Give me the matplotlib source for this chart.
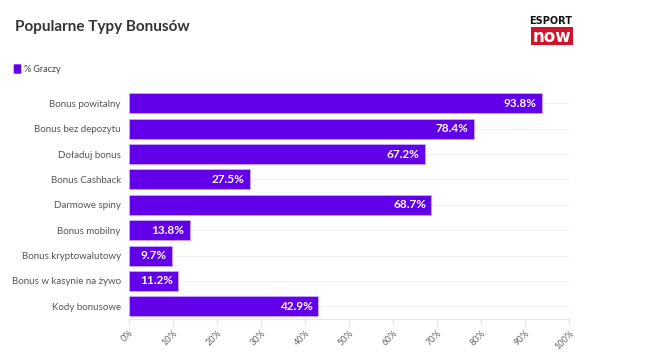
import matplotlib
matplotlib.use("Agg")
import matplotlib.pyplot as plt
from matplotlib.patches import FancyBboxPatch, Rectangle

plt.rcParams['font.family'] = ['Lato', 'DejaVu Sans']

categories = ["Bonus powitalny", "Bonus bez depozytu", "Doładuj bonus", "Bonus Cashback",
              "Darmowe spiny", "Bonus mobilny", "Bonus kryptowalutowy",
              "Bonus w kasynie na żywo", "Kody bonusowe"]
values = [93.8, 78.4, 67.2, 27.5, 68.7, 13.8, 9.7, 11.2, 42.9]
xticks = [0, 10, 20, 30, 40, 50, 60, 70, 80, 90, 100]
xtick_labels = [f"{t}%" for t in xticks]
title = "Popularne Typy Bonusów"
series_name = "% Graczy"

W, H = 648, 355
fig = plt.figure(figsize=(W / 100, H / 100), dpi=100)
ax = fig.add_axes([129 / W, 1 - 319 / H, 440 / W, (319 - 90.6) / H])

bar_color = "#6200ea"
ypos = list(range(len(categories)))
ax.barh(ypos, values, height=0.79, color=bar_color, edgecolor="#c9a8ff", linewidth=0.6, zorder=3)
for y, v in zip(ypos, values):
    ax.text(v - 1.2, y, f"{v}%", ha="right", va="center", color="white",
            fontsize=8.5, fontweight="bold", zorder=4)

ax.set_xlim(0, 100)
ax.set_ylim(len(categories) - 0.5, -0.5)
ax.set_yticks(ypos)
ax.set_yticklabels(categories, fontsize=7, color="#555555")
ax.tick_params(axis="y", length=0, pad=6)
ax.set_xticks(xticks)
ax.set_xticklabels(xtick_labels, fontsize=6.5, color="#666666", rotation=45, ha="right",
                   rotation_mode="anchor")
ax.tick_params(axis="x", length=4, color="#e6e6e6", width=0.8, pad=3)

for s in ["top", "right", "left"]:
    ax.spines[s].set_visible(False)
ax.spines["bottom"].set_color("#e6e6e6")
ax.spines["bottom"].set_linewidth(0.8)

ax.grid(axis="y", color="#f0f0f0", linewidth=0.8, zorder=0)
ax.set_axisbelow(True)

# Title
fig.text(15 / W, 1 - 27 / H, title, fontsize=11, fontweight="bold", color="#333333",
         ha="left", va="center")

# Legend
fig.patches.append(FancyBboxPatch((15 / W, 1 - 73 / H), 5 / W, 8 / H,
                                  boxstyle="round,pad=0.002", transform=fig.transFigure,
                                  facecolor=bar_color, edgecolor="none"))
fig.text(24 / W, 1 - 69 / H, series_name, fontsize=6.5, color="#444444", ha="left", va="center")

# Logo
fig.text(551 / W, 1 - 21 / H, "ESPORT", fontsize=7, fontweight="heavy", color="#111111",
         ha="center", va="center", family=["DejaVu Sans"])
fig.patches.append(Rectangle((531 / W, 1 - 45 / H), 42 / W, 18 / H, transform=fig.transFigure,
                             facecolor="#d0142c", edgecolor="none"))
fig.text(552 / W, 1 - 36.5 / H, "now", fontsize=12, fontweight="heavy", color="white",
         ha="center", va="center", family=["DejaVu Sans"])

fig.savefig("out.png", dpi=100, facecolor="white")
